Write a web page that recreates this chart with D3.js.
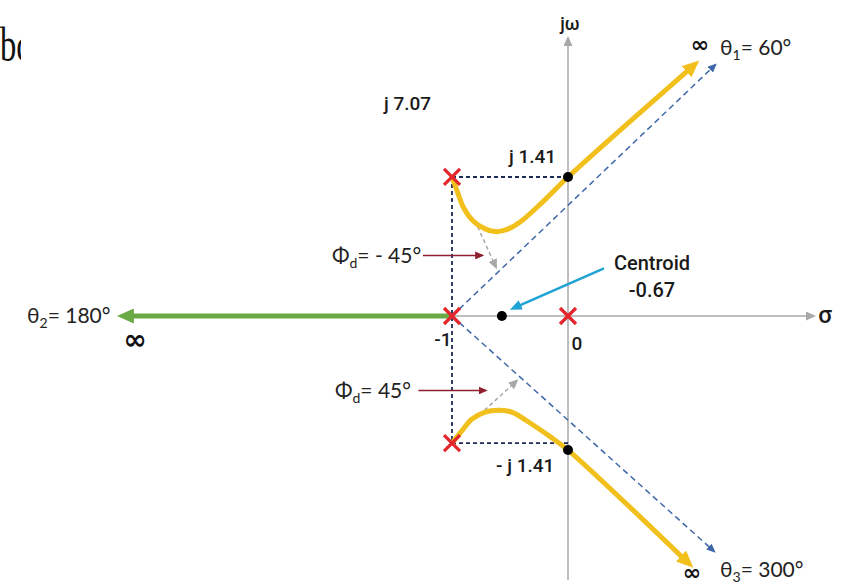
<!DOCTYPE html>
<html lang="en">
<head>
    <meta charset="UTF-8">
    <script src="https://cdnjs.cloudflare.com/ajax/libs/d3/7.8.5/d3.min.js"></script>
    <style>
        body { margin: 0; background: #fff; }
        .lbl { font-family: Roboto, sans-serif; font-weight: 500; fill: #1a1a1a; }
        .ang { font-family: Lato, "Open Sans", sans-serif; fill: #222; }
    </style>
</head>
<body>
    <svg id="chart" width="854" height="584"></svg>
    <script>
        // root locus values, in s-plane units (sigma, omega)
        const poles = [[-1, 1.40], [-1, 0], [0, 0], [-1, -1.28]];
        const crossings = [[0, 1.40], [0, -1.35]];
        const centroid = [-0.57, 0];
        const upperLocus = [[-1, 1.40], [-0.95, 1.24], [-0.90, 1.09], [-0.82, 0.96], [-0.72, 0.88],
            [-0.63, 0.85], [-0.53, 0.87], [-0.41, 0.95], [-0.20, 1.17], [0, 1.40], [1.08, 2.52]];
        const lowerLocus = [[-1, -1.28], [-0.91, -1.15], [-0.83, -1.04], [-0.72, -0.97], [-0.60, -0.95],
            [-0.48, -0.97], [-0.35, -1.06], [-0.16, -1.21], [0, -1.35], [1.03, -2.48]];
        const realLocus = [[-1, 0], [-3.82, 0]];
        const asymptotes = [[[-1, 0], [1.27, 2.53]], [[-1, 0], [1.26, -2.37]]];
        const departure = [[[-0.78, 0.90], [-0.62, 0.49]], [[-0.72, -0.95], [-0.44, -0.65]]];
        const phiArrows = [[[-1.25, 0.61], [-0.74, 0.61]], [[-1.29, -0.75], [-0.71, -0.75]]];
        const centroidArrow = [[0.31, 0.48], [-0.47, 0.08]];
        const sigmaAxis = [-3.82, 2.12];
        const omegaAxis = [-2.66, 2.80];

        const x = d3.scaleLinear().domain([-1, 0]).range([452, 568]);
        const y = d3.scaleLinear().domain([0, 1.41]).range([316, 176]);
        const line = d3.line().x(d => x(d[0])).y(d => y(d[1]));
        const smooth = d3.line().x(d => x(d[0])).y(d => y(d[1])).curve(d3.curveCatmullRom);

        const svg = d3.select("#chart");
        const defs = svg.append("defs");

        function marker(id, color, w, h, ref) {
            defs.append("marker")
                .attr("id", id)
                .attr("viewBox", `0 0 ${w} ${h}`)
                .attr("markerUnits", "userSpaceOnUse")
                .attr("markerWidth", w).attr("markerHeight", h)
                .attr("refX", ref).attr("refY", h / 2)
                .attr("orient", "auto")
                .append("path")
                .attr("d", `M0,0L${w},${h / 2}L0,${h}Z`)
                .attr("fill", color);
        }
        marker("aYellow", "#f2c01c", 17, 15, 9);
        marker("aGreen", "#6aaa45", 17, 15, 9);
        marker("aBlue", "#3f67a8", 9, 8, 7);
        marker("aGrey", "#a8a8a8", 10, 9, 8);
        marker("aRed", "#8e1f2e", 9, 8, 7);
        marker("aCyan", "#1ea3d4", 12, 10, 8);

        // clipped fragment of text at top-left
        defs.append("clipPath").attr("id", "frag").append("rect")
            .attr("x", 0).attr("y", 0).attr("width", 21).attr("height", 80);
        svg.append("g")
            .attr("clip-path", "url(#frag)")
            .append("text")
            .attr("transform", "translate(0,61) scale(0.68,1)")
            .style("font-family", "'Liberation Serif', serif")
            .style("font-size", "48px")
            .style("fill", "#111")
            .text("bc");

        // axes
        svg.append("path")
            .attr("d", line([[sigmaAxis[0], 0], [sigmaAxis[1], 0]]))
            .attr("stroke", "#a8a8a8").attr("stroke-width", 1.5).attr("fill", "none")
            .attr("marker-end", "url(#aGrey)");
        svg.append("path")
            .attr("d", line([[0, omegaAxis[0]], [0, omegaAxis[1]]]))
            .attr("stroke", "#a8a8a8").attr("stroke-width", 1.5).attr("fill", "none")
            .attr("marker-end", "url(#aGrey)");

        // construction dashed lines
        const navy = "#1d2b57";
        svg.append("path")
            .attr("d", line([poles[0], poles[3]]))
            .attr("stroke", navy).attr("stroke-width", 1.8).attr("stroke-dasharray", "4,3").attr("fill", "none");
        svg.append("path")
            .attr("d", line([poles[0], [0, poles[0][1]]]))
            .attr("stroke", navy).attr("stroke-width", 1.8).attr("stroke-dasharray", "4,3").attr("fill", "none");
        svg.append("path")
            .attr("d", line([poles[3], [0, poles[3][1]]]))
            .attr("stroke", navy).attr("stroke-width", 1.8).attr("stroke-dasharray", "4,3").attr("fill", "none");

        // asymptotes
        svg.selectAll("path.asym")
            .data(asymptotes)
            .enter()
            .append("path")
            .attr("class", "asym")
            .attr("d", d => line(d))
            .attr("stroke", "#3f67a8").attr("stroke-width", 1.5).attr("stroke-dasharray", "6,4")
            .attr("fill", "none")
            .attr("marker-end", "url(#aBlue)");

        // departure tangents
        svg.selectAll("path.dep")
            .data(departure)
            .enter()
            .append("path")
            .attr("class", "dep")
            .attr("d", d => line(d))
            .attr("stroke", "#a8a8a8").attr("stroke-width", 1.5).attr("stroke-dasharray", "4,3")
            .attr("fill", "none")
            .attr("marker-end", "url(#aGrey)");

        // locus branches
        svg.append("path")
            .attr("d", line(realLocus))
            .attr("stroke", "#6aaa45").attr("stroke-width", 5).attr("fill", "none")
            .attr("marker-end", "url(#aGreen)");
        [upperLocus, lowerLocus].forEach(b => {
            svg.append("path")
                .attr("d", smooth(b))
                .attr("stroke", "#f2c01c").attr("stroke-width", 5).attr("fill", "none")
                .attr("stroke-linejoin", "round")
                .attr("marker-end", "url(#aYellow)");
        });

        // annotation arrows
        svg.selectAll("path.phi")
            .data(phiArrows)
            .enter()
            .append("path")
            .attr("class", "phi")
            .attr("d", d => line(d))
            .attr("stroke", "#8e1f2e").attr("stroke-width", 1.6).attr("fill", "none")
            .attr("marker-end", "url(#aRed)");
        svg.append("path")
            .attr("d", line(centroidArrow))
            .attr("stroke", "#1ea3d4").attr("stroke-width", 2.5).attr("fill", "none")
            .attr("marker-end", "url(#aCyan)");

        // crossings and centroid
        svg.selectAll("circle.cross")
            .data(crossings.concat([centroid]))
            .enter()
            .append("circle")
            .attr("r", 5)
            .attr("cx", d => x(d[0]))
            .attr("cy", d => y(d[1]))
            .attr("fill", "#000");

        // poles
        const s = 8;
        svg.selectAll("path.pole")
            .data(poles)
            .enter()
            .append("path")
            .attr("class", "pole")
            .attr("d", d => {
                const px = x(d[0]), py = y(d[1]);
                return `M${px - s},${py - s}L${px + s},${py + s}M${px - s},${py + s}L${px + s},${py - s}`;
            })
            .attr("stroke", "#e2262c").attr("stroke-width", 3.2).attr("fill", "none");

        // labels
        const lbl = (t, px, py, size, anchor) => svg.append("text")
            .attr("class", "lbl").attr("x", px).attr("y", py)
            .attr("text-anchor", anchor || "start")
            .style("font-size", size + "px").text(t);
        lbl("j 7.07", 384, 110, 19);
        lbl("j 1.41", 509, 163, 19);
        lbl("- j 1.41", 496, 472, 19);
        lbl("Centroid", 652, 270, 20, "middle");
        lbl("-0.67", 652, 297, 20, "middle");
        lbl("-1", 443, 346, 19, "middle");
        lbl("0", 577, 350, 19, "middle");
        lbl("jω", 570, 30, 18, "middle");
        lbl("σ", 825, 323, 24, "middle");

        const ang = (sym, sub, rest, px, py) => {
            const t = svg.append("text").attr("class", "ang").attr("x", px).attr("y", py)
                .style("font-size", "21px");
            t.append("tspan").text(sym);
            t.append("tspan").attr("dy", 5).style("font-size", "14px").text(sub);
            t.append("tspan").attr("dy", -5).text(rest);
        };
        ang("Φ", "d", "= - 45°", 332, 263);
        ang("Φ", "d", "= 45°", 335, 398);
        ang("θ", "2", "= 180°", 27, 323);
        ang("θ", "1", "= 60°", 720, 55);
        ang("θ", "3", "= 300°", 720, 577);

        const inf = (px, py, size) => svg.append("text")
            .attr("x", px).attr("y", py).attr("text-anchor", "middle")
            .style("font-family", "'DejaVu Sans', sans-serif").style("font-weight", "bold")
            .style("font-size", size + "px").style("fill", "#111").text("∞");
        inf(135, 349, 28);
        inf(700, 52, 22);
        inf(692, 580, 22);
    </script>
</body>
</html>
